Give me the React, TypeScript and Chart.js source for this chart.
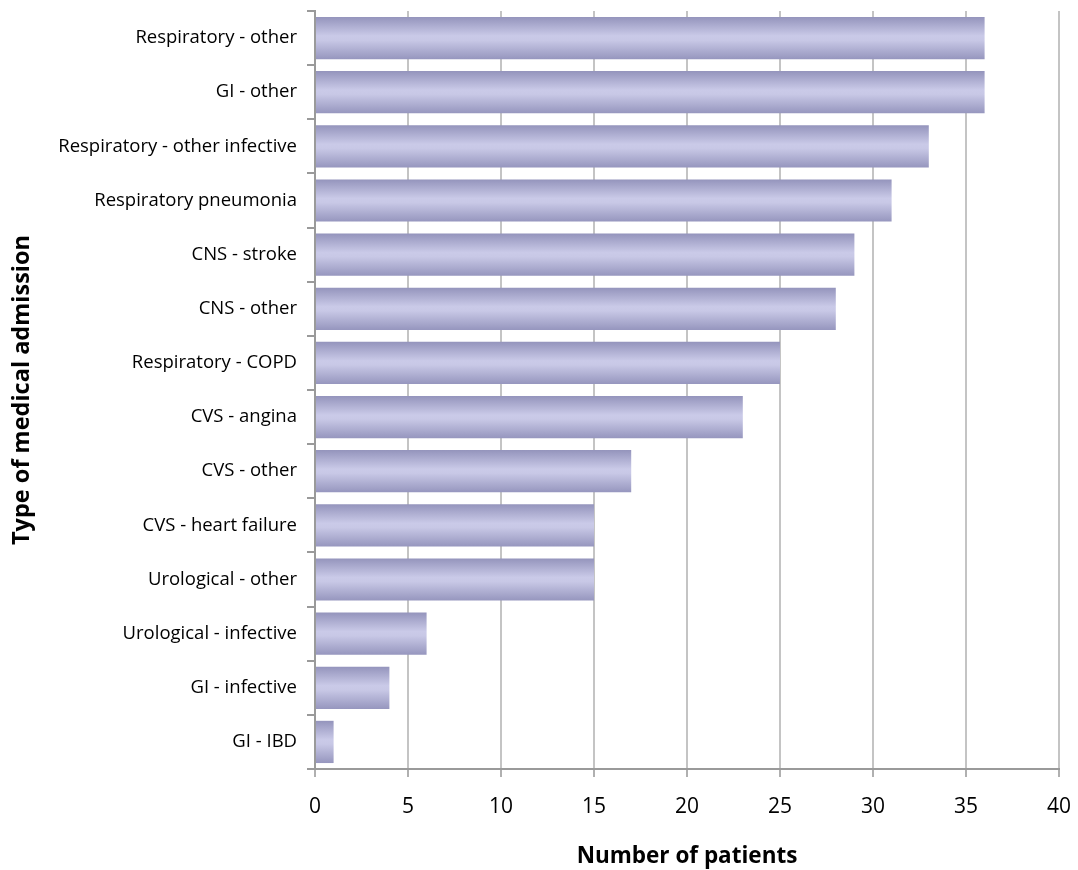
import React, { useEffect, useRef } from "react";
import { Chart, registerables } from "chart.js";

Chart.register(...registerables);

const categories = [
  "Respiratory - other",
  "GI - other",
  "Respiratory - other infective",
  "Respiratory pneumonia",
  "CNS - stroke",
  "CNS - other",
  "Respiratory - COPD",
  "CVS - angina",
  "CVS - other",
  "CVS - heart failure",
  "Urological - other",
  "Urological - infective",
  "GI - infective",
  "GI - IBD",
];
const patients = [36, 36, 33, 31, 29, 28, 25, 23, 17, 15, 15, 6, 4, 1];
const xTicks = [0, 5, 10, 15, 20, 25, 30, 35, 40];

const FONT = "'Open Sans', 'Noto Sans', sans-serif";
const CAT_PCT = 0.78;

export default function App() {
  const ref = useRef<HTMLCanvasElement>(null);
  useEffect(() => {
    document.body.style.margin = "0";
    const canvas = ref.current!;
    const chart = new Chart(canvas, {
      type: "bar",
      data: {
        labels: categories,
        datasets: [
          {
            data: patients,
            borderWidth: 0,
            categoryPercentage: CAT_PCT,
            barPercentage: 1,
            backgroundColor: (ctx: any) => {
              const ch = ctx.chart;
              const area = ch.chartArea;
              const ys = ch.scales.y;
              if (!area || !ys) return "#b4b4d8";
              const yc = ys.getPixelForValue(ctx.dataIndex);
              const h = ((area.bottom - area.top) / categories.length) * CAT_PCT;
              const g = ch.ctx.createLinearGradient(0, yc - h / 2, 0, yc + h / 2);
              g.addColorStop(0, "#9494bc");
              g.addColorStop(0.45, "#cacae8");
              g.addColorStop(0.55, "#c8c8e6");
              g.addColorStop(1, "#9696be");
              return g;
            },
          },
        ],
      },
      options: {
        indexAxis: "y",
        animation: false,
        responsive: false,
        maintainAspectRatio: false,
        layout: { padding: { top: 11, right: 19, left: 0, bottom: 0 } },
        plugins: { legend: { display: false }, tooltip: { enabled: false } },
        scales: {
          x: {
            min: 0,
            max: 40,
            afterBuildTicks: (s: any) => {
              s.ticks = xTicks.map((v) => ({ value: v }));
            },
            afterFit: (s: any) => {
              s.height = 101;
              s.paddingLeft = 0;
              s.paddingRight = 0;
            },
            grid: {
              color: "#c4c4c4",
              lineWidth: 2,
              tickLength: 8,
              tickColor: "#b0b0b0",
            },
            border: { color: "#9a9a9a", width: 2 },
            ticks: {
              color: "#000",
              font: { family: FONT, size: 21 },
              padding: 17,
            },
            title: {
              display: true,
              text: "Number of patients",
              color: "#000",
              font: { family: FONT, size: 22.5, weight: "bold" },
              padding: { top: 14, bottom: 0 },
            },
          },
          y: {
            afterFit: (s: any) => {
              s.width = 315;
              s.paddingTop = 0;
              s.paddingBottom = 0;
            },
            grid: {
              offset: true,
              drawOnChartArea: false,
              tickLength: 8,
              tickColor: "#9a9a9a",
              lineWidth: 2,
            },
            border: { color: "#9a9a9a", width: 2 },
            ticks: {
              color: "#000",
              font: { family: FONT, size: 18.5 },
              padding: 10,
            },
            title: {
              display: true,
              text: "Type of medical admission",
              color: "#000",
              font: { family: FONT, size: 23.5, weight: "bold" },
              padding: { top: 8, bottom: 0 },
            },
          },
        },
      },
    });
    return () => chart.destroy();
  }, []);
  return (
    <div style={{ width: 1078, height: 870, background: "#fff" }}>
      <canvas ref={ref} width={1078} height={870} style={{ display: "block" }} />
    </div>
  );
}
